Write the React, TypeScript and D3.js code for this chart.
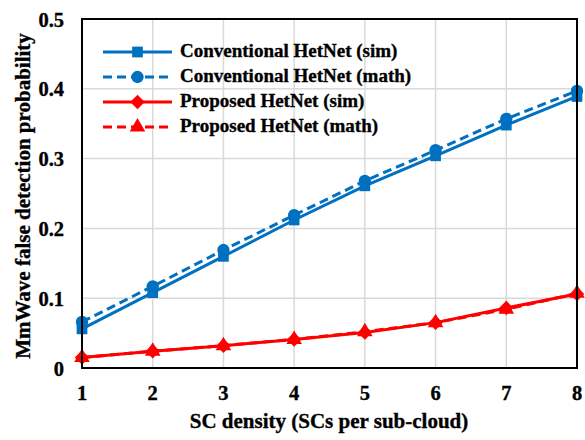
import React from "react";
import * as d3 from "d3";

// SC density (SCs per sub-cloud)
const densities = [1, 2, 3, 4, 5, 6, 7, 8];
const convSim = [0.056, 0.108, 0.16, 0.212, 0.261, 0.304, 0.348, 0.389];
const convMath = [0.066, 0.117, 0.169, 0.219, 0.268, 0.312, 0.357, 0.397];
const propSim = [0.015, 0.024, 0.032, 0.041, 0.051, 0.065, 0.086, 0.106];
const propMath = [0.015, 0.024, 0.032, 0.041, 0.052, 0.065, 0.084, 0.107];
const yTicks = [0, 0.1, 0.2, 0.3, 0.4, 0.5];
const seriesNames = [
  "Conventional HetNet (sim)",
  "Conventional HetNet (math)",
  "Proposed HetNet (sim)",
  "Proposed HetNet (math)",
];

const W = 585;
const H = 440;
const M = { left: 82, right: 577, top: 19, bottom: 368 };
const BLUE = "#0070C0";
const RED = "#FF0000";
const FONT = "'Liberation Serif', 'Times New Roman', serif";

type Marker = "square" | "circle" | "diamond" | "triangle";

const series: { name: string; values: number[]; color: string; dashed: boolean; marker: Marker }[] = [
  { name: seriesNames[0], values: convSim, color: BLUE, dashed: false, marker: "square" },
  { name: seriesNames[1], values: convMath, color: BLUE, dashed: true, marker: "circle" },
  { name: seriesNames[2], values: propSim, color: RED, dashed: false, marker: "diamond" },
  { name: seriesNames[3], values: propMath, color: RED, dashed: true, marker: "triangle" },
];

// Square rotated by 45 degrees, as in spreadsheet charts
const wideDiamond: d3.SymbolType = {
  draw(ctx, size) {
    const r = Math.sqrt(size / 2);
    ctx.moveTo(0, -r);
    ctx.lineTo(r, 0);
    ctx.lineTo(0, r);
    ctx.lineTo(-r, 0);
    ctx.closePath();
  },
};

const symbolFor: Record<Marker, d3.SymbolType> = {
  square: d3.symbolSquare,
  circle: d3.symbolCircle,
  diamond: wideDiamond,
  triangle: d3.symbolTriangle,
};
const sizeFor: Record<Marker, number> = {
  square: 115,
  circle: 120,
  diamond: 105,
  triangle: 105,
};

function MarkerPath({ type, color, x, y }: { type: Marker; color: string; x: number; y: number }) {
  const p = d3.symbol().type(symbolFor[type]).size(sizeFor[type])() as string;
  return <path d={p} transform={`translate(${x},${y})`} fill={color} />;
}

const textStyle = {
  fontFamily: FONT,
  fontWeight: "bold" as const,
  fill: "#000",
  stroke: "#000",
  strokeWidth: 0.35,
};

export default function App() {
  const x = d3.scaleLinear().domain([1, 8]).range([M.left, M.right]);
  const y = d3.scaleLinear().domain([0, 0.5]).range([M.bottom, M.top]);
  const line = d3
    .line<number>()
    .x((_, i) => x(densities[i]))
    .y((d) => y(d));

  const legendX0 = 103;
  const legendX1 = 172;
  const legendY0 = 52;
  const legendStep = 25;

  return (
    <svg width={W} height={H} style={{ position: "absolute", left: 0, top: 0 }}>
      <rect x={0} y={0} width={W} height={H} fill="#fff" />
      {/* gridlines */}
      {densities.map((d) => (
        <line key={`gx${d}`} x1={x(d)} x2={x(d)} y1={M.top} y2={M.bottom} stroke="#d9d9d9" strokeWidth={1.5} />
      ))}
      {yTicks.map((t) => (
        <line key={`gy${t}`} x1={M.left} x2={M.right} y1={y(t)} y2={y(t)} stroke="#d9d9d9" strokeWidth={1.5} />
      ))}
      {/* series */}
      {series.map((s) => (
        <g key={s.name}>
          <path
            d={line(s.values) as string}
            fill="none"
            stroke={s.color}
            strokeWidth={3}
            strokeDasharray={s.dashed ? "9,5" : undefined}
          />
          {s.values.map((v, i) => (
            <MarkerPath key={i} type={s.marker} color={s.color} x={x(densities[i])} y={y(v)} />
          ))}
        </g>
      ))}
      {/* plot frame */}
      <rect
        x={M.left}
        y={M.top}
        width={M.right - M.left}
        height={M.bottom - M.top}
        fill="none"
        stroke="#000"
        strokeWidth={2}
      />
      {/* tick labels */}
      {yTicks.map((t) => (
        <text key={`ty${t}`} x={64} y={y(t) + 7.5} textAnchor="end" fontSize={20.5} {...textStyle}>
          {t === 0 ? "0" : d3.format(".1f")(t)}
        </text>
      ))}
      {densities.map((d) => (
        <text key={`tx${d}`} x={x(d)} y={400} textAnchor="middle" fontSize={20.5} {...textStyle}>
          {d}
        </text>
      ))}
      {/* axis titles */}
      <text x={329} y={428} textAnchor="middle" fontSize={21} {...textStyle}>
        SC density (SCs per sub-cloud)
      </text>
      <text transform="translate(30,196) rotate(-90)" textAnchor="middle" fontSize={21} {...textStyle}>
        MmWave false detection probability
      </text>
      {/* legend */}
      {series.map((s, i) => {
        const ly = legendY0 + i * legendStep;
        return (
          <g key={`lg${i}`}>
            <line
              x1={legendX0}
              x2={legendX1}
              y1={ly}
              y2={ly}
              stroke={s.color}
              strokeWidth={3}
              strokeDasharray={s.dashed ? "9,5" : undefined}
            />
            <MarkerPath type={s.marker} color={s.color} x={(legendX0 + legendX1) / 2} y={ly} />
            <text x={180} y={ly + 5} fontSize={19} {...textStyle}>
              {s.name}
            </text>
          </g>
        );
      })}
    </svg>
  );
}
